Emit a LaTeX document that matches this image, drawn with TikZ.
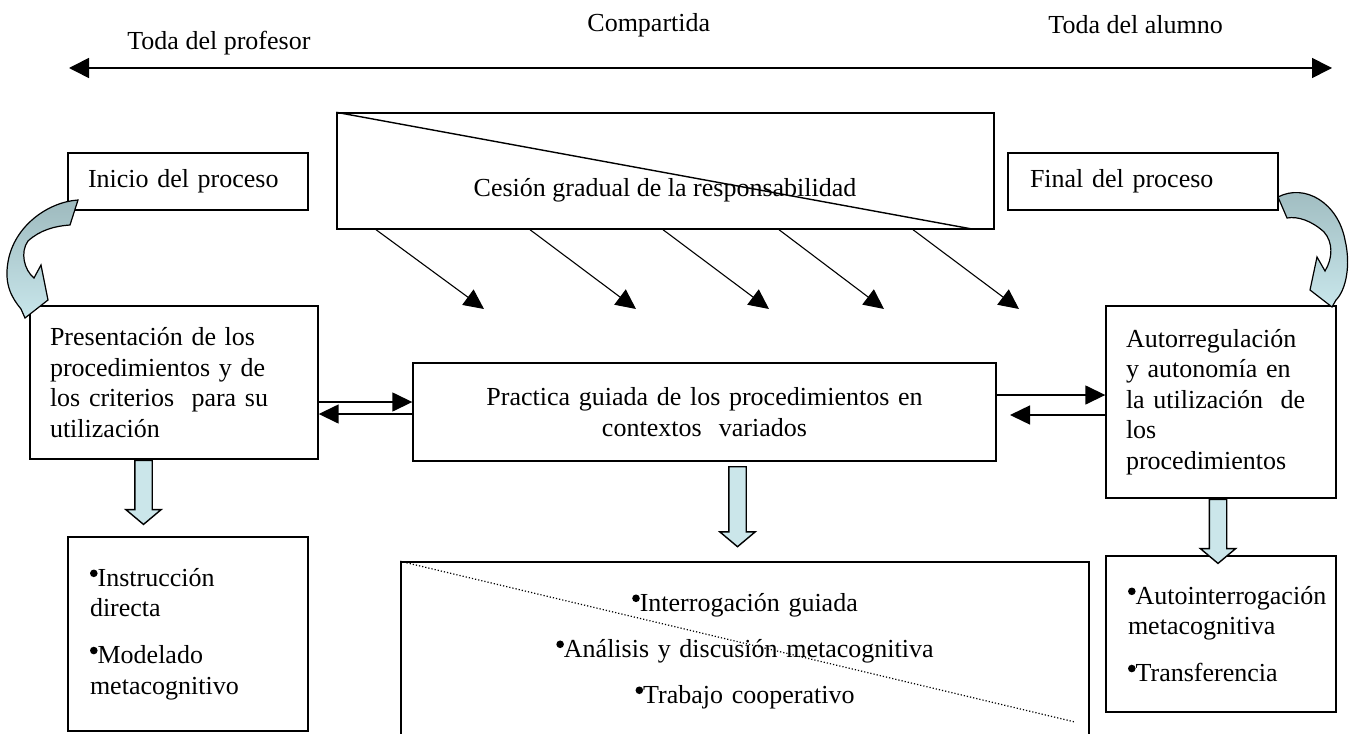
\documentclass[tikz,border=0pt]{standalone}
\usepackage{fontspec}
\setmainfont{Liberation Serif}
\usetikzlibrary{arrows.meta,shapes.arrows}
\definecolor{bandlight}{RGB}{200,230,235}
\definecolor{banddark}{RGB}{158,186,190}
\definecolor{blockfill}{RGB}{203,230,234}
\newcommand{\bul}{\raisebox{4.6pt}{\tikz\fill[black] (0,0) circle (1.9pt);}}
\tikzset{
  every node/.style={text=black, font=\fontsize{13}{15.3}\selectfont},
  box/.style={draw=black, line width=0.7pt, inner ysep=0pt},
  plain/.style={inner sep=0pt},
  linkarrow/.style={draw=black, line width=0.75pt, -{Triangle[length=10pt,width=9.5pt]}},
  givearrow/.style={draw=black, line width=0.55pt, -{Triangle[length=10pt,width=9.5pt]}},
  downarrow/.style={draw=black, line width=0.7pt, fill=blockfill, single arrow, shape border rotate=270,
    inner sep=4pt, single arrow head extend=4.5pt, single arrow tip angle=100, anchor=tail},
  curved/.style={draw=black, line width=0.6pt, top color=banddark, bottom color=bandlight}
}

\begin{document}
\begin{tikzpicture}[x=0.5pt, y=-0.5pt]
  \useasboundingbox (0,0) rectangle (1364,733);
  % Nodes
  \node (profesor) [plain, anchor=west] at (127,43) {Toda del profesor};
  \node (compartida) [plain, anchor=west] at (587,25) {Compartida};
  \node (alumno) [plain, anchor=west] at (1048,25) {Toda del alumno};
  \coordinate (leftend) at (69,68);
  \coordinate (rightend) at (1332,68);

  \node (cesion) [box, minimum width=328.5pt, minimum height=58pt] at (665.5,171) {};
  \node (cesiontxt) [plain] at (665,190) {Cesión gradual de la responsabilidad};
  \node (inicio) [box, text width=100pt, align=left, inner xsep=10pt, minimum height=28.5pt] at (188,181.5) {Inicio del proceso};
  \node (final) [box, text width=113pt, align=left, inner xsep=11pt, minimum height=28.5pt] at (1143,181.5) {Final del proceso};

  \node (pres) [box, text width=124pt, align=left, inner xsep=10pt, minimum height=76.5pt] at (174,382.5)
    {Presentación de los\\ procedimientos y de\\ los criterios~ para su\\ utilización};
  \node (prac) [box, text width=271.5pt, align=center, inner xsep=10pt, minimum height=49pt] at (704.5,412)
    {Practica guiada de los procedimientos en\\ contextos~ variados};
  \node (auto) [box, text width=95pt, align=left, inner xsep=10pt, minimum height=96pt] at (1221,402)
    {Autorregulación\\ y autonomía en\\ la utilización~ de\\ los\\ procedimientos};

  \node (directa) [box, text width=98pt, align=left, inner xsep=11pt, minimum height=97pt] at (188,634)
    {\bul Instrucción\\ directa\\[8pt] \bul Modelado\\ metacognitivo};
  \node (guiada) [box, text width=324pt, align=center, inner xsep=10pt, minimum height=89pt] at (745,651)
    {\bul Interrogación guiada\\[7.7pt] \bul Análisis y discusión metacognitiva\\[7.7pt] \bul Trabajo cooperativo};
  \node (autonoma) [box, text width=93pt, align=left, inner xsep=11pt, minimum height=78pt] at (1221,634)
    {\bul Autointerrogación\\ metacognitiva\\[8pt] \bul Transferencia};

  \node (presdown) [downarrow, minimum height=32pt] at (pres.south -| 143.5,0) {};
  \node (pracdown) [downarrow, minimum height=40pt] at (737.5,466) {};
  \node (autodown) [downarrow, minimum height=32pt] at (auto.south -| 1218,0) {};

  % Connectors
  \draw[line width=0.8pt, {Triangle[length=10pt,width=10pt]}-{Triangle[length=10pt,width=10pt]}] (leftend) -- (rightend);

  \coordinate (cesioncut) at (972,229);
  \draw[line width=0.7pt] (cesion.north west) -- (cesioncut);
  \foreach \sx/\ex [count=\i] in {376/484, 530/636, 663/769, 779/884, 913/1019} {
    \coordinate (give\i) at (\ex,309);
    \draw[givearrow] (cesion.south -| \sx,0) -- (give\i);
  }

  \draw[linkarrow] (pres.east |- 0,402) -- (prac.west |- 0,402);
  \draw[linkarrow] (prac.west |- 0,414) -- (pres.east |- 0,414);
  \coordinate (backtip) at (1010,415);
  \draw[linkarrow] (prac.east |- 0,395) -- (auto.west |- 0,395);
  \draw[linkarrow] (auto.west |- 0,415) -- (backtip);

  \coordinate (dotend) at (1075,722);
  \draw[line width=0.6pt, densely dotted] (guiada.north west) -- (dotend);

  % curved arrows
  \draw[curved] (78,200) .. controls (48,202) and (14,226) .. (8,262)
    .. controls (4,285) and (12,298) .. (21,309) -- (25,318) -- (48,300) -- (41,265) -- (34,278)
    .. controls (24,270) and (20,252) .. (28,241) .. controls (40,230) and (55,226) .. (70,225) -- cycle;
  \draw[curved] (1278,197) .. controls (1305,183) and (1338,203) .. (1345,240)
    .. controls (1351,265) and (1346,290) .. (1336,300) -- (1332,307) -- (1310,290) -- (1317,257) -- (1325,271)
    .. controls (1333,258) and (1333,242) .. (1324,232) .. controls (1312,221) and (1298,216) .. (1287,218) -- cycle;
\end{tikzpicture}
\end{document}
